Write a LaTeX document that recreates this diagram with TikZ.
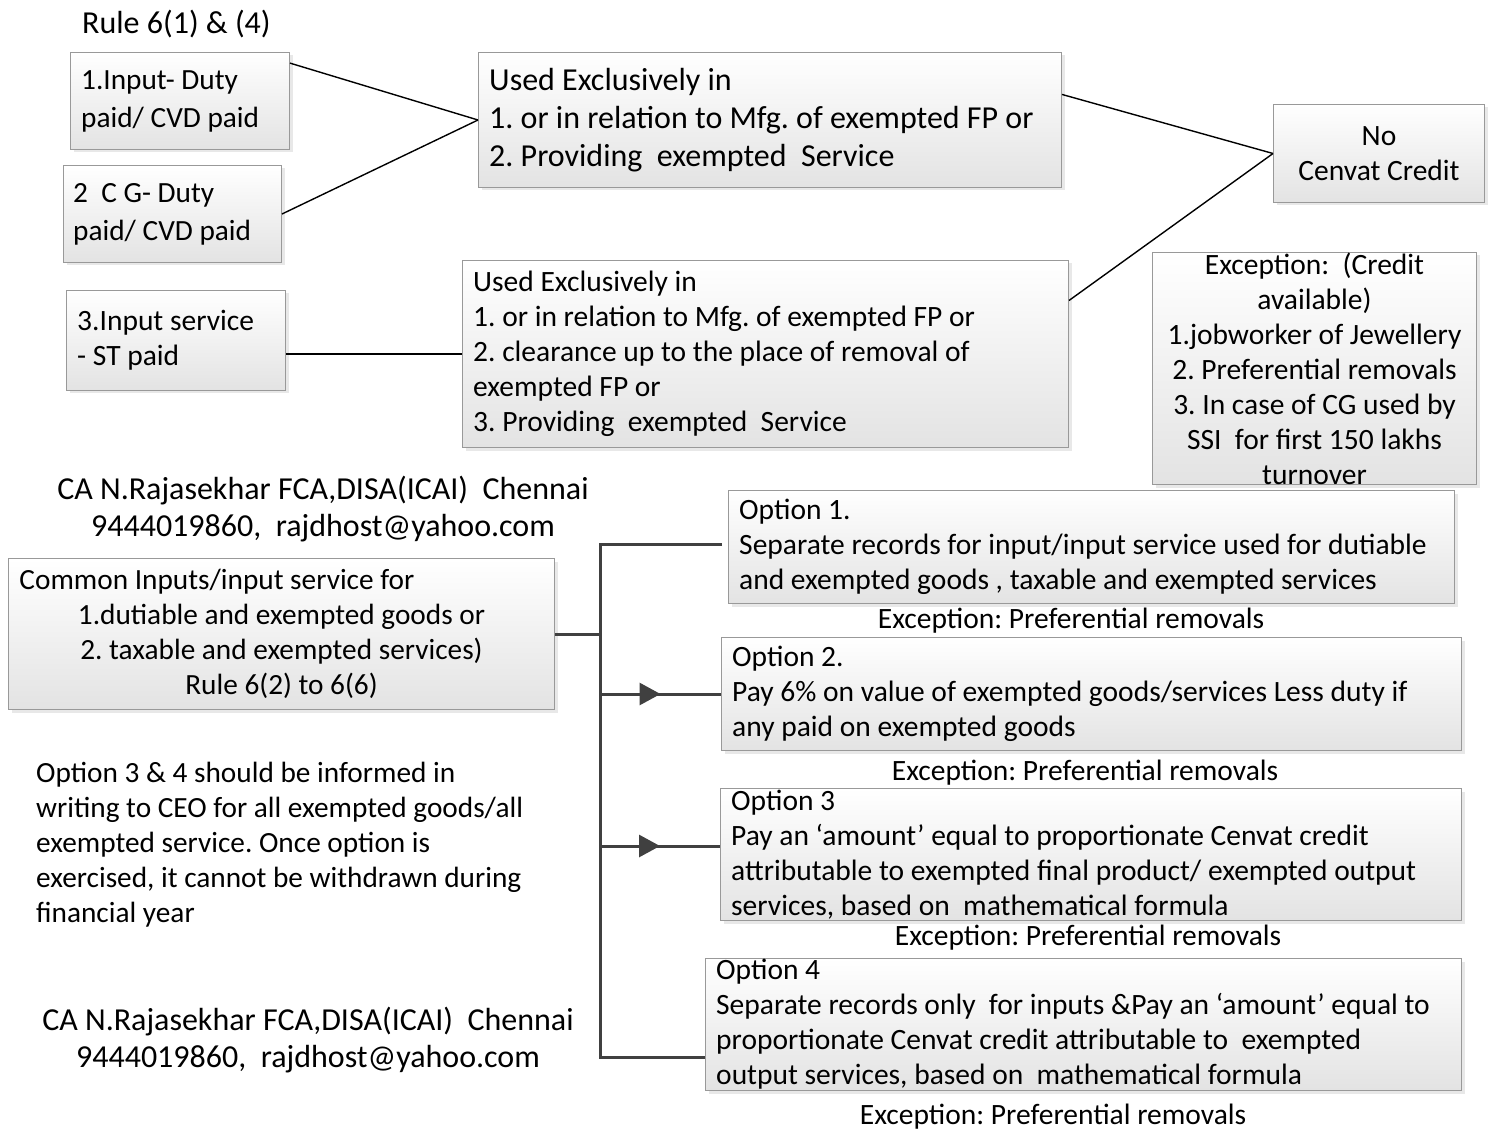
\documentclass[tikz,border=0pt]{standalone}
\usepackage{fontspec}
\setmainfont{Carlito}
\usetikzlibrary{shadows,arrows.meta,decorations.markings}
\frenchspacing
\newcommand\fsA{\fontsize{29.5}{35}\selectfont}
\newcommand\fsB{\fontsize{29.3}{38}\selectfont}
\newcommand\fsBig{\fontsize{32}{38}\selectfont}
\newcommand\fsC{\fontsize{32}{37}\selectfont}
\newcommand\fsL{\fontsize{29.5}{35}\selectfont}
\newcommand\fsN{\fontsize{29.3}{35}\selectfont}
\begin{document}
\begin{tikzpicture}[x=1pt,y=-1pt,
  boxshape/.style={draw=gray!80, line width=1pt, top color=white, bottom color=gray!22,
    drop shadow={shadow xshift=3pt,shadow yshift=-3pt,fill=gray!35},
    inner sep=0pt, anchor=north west},
  lefttext/.style={inner sep=0pt, font=\fsA, anchor=west, xshift=11pt, align=left},
  ctext/.style={inner sep=0pt, font=\fsA, anchor=center, align=center},
  plain/.style={inner sep=0pt, font=\fsA},
  conn/.style={draw=black, line width=1.4pt},
  branch/.style={draw=black!75, line width=3pt},
  arrowmid/.style={postaction={decorate},
    decoration={markings, mark=at position #1 with {\arrow{Triangle[length=21pt,width=22pt]}}}}
]
\useasboundingbox[fill=white] (0,0) rectangle (1491,1131);

% top boxes
\node[boxshape, minimum width=219pt, minimum height=97pt] (inA) at (70,52) {};
\node[lefttext, font=\fsB] (inAt) at (inA.west) {1.Input- Duty\\paid/ CVD paid};

\node[boxshape, minimum width=218pt, minimum height=97pt] (inB) at (63,165) {};
\node[lefttext, font=\fsB, xshift=-1pt] (inBt) at (inB.west) {2\ \ C G- Duty\\paid/ CVD paid};

\node[boxshape, minimum width=583pt, minimum height=135pt] (inC) at (478,52) {};
\node[lefttext, font=\fsBig] (inCt) at (inC.west) {Used Exclusively in\\1. or in relation to Mfg. of exempted FP or\\2. Providing\ \ exempted\ \ Service};

\node[boxshape, minimum width=211pt, minimum height=98pt] (inD) at (1273,104) {};
\node[ctext] (inDt) at (inD.center) {No\\Cenvat Credit};

\node[boxshape, minimum width=219pt, minimum height=100pt] (inE) at (66,290) {};
\node[lefttext] (inEt) at (inE.west) {3.Input service\\- ST paid};

\node[boxshape, minimum width=606pt, minimum height=187pt] (inF) at (462,260) {};
\node[lefttext] (inFt) at (inF.west) {Used Exclusively in\\1. or in relation to Mfg. of exempted FP or\\2. clearance up to the place of removal of\\exempted FP or\\3. Providing\ \ exempted\ \ Service};

\node[boxshape, minimum width=324pt, minimum height=232pt] (inG) at (1152,252) {};
\node[ctext] (inGt) at (inG.center) {Exception:\ \ (Credit\\available)\\1.jobworker of Jewellery\\2. Preferential removals\\3. In case of CG used by\\SSI\ \ for first 150 lakhs\\turnover};

\node[plain, font=\fsC, anchor=west] (rule) at (82,24) {Rule 6(1) \& (4)};

% connectors top
\draw[conn] (inA.19) -- (inC.west);
\draw[conn] (inB.east) -- (inC.west);
\draw[conn] (inC.5) -- (inD.west);
\draw[conn] (inF.10) -- (inD.west);
\draw[conn] (inE.east |- inF.west) -- (inF.west);

% middle texts
\node[plain, font=\fsC, align=center] (ca1) at (323,509.5) {CA N.Rajasekhar FCA,DISA(ICAI)\ \ Chennai\\9444019860,\ \ rajdhost@yahoo.com};
\node[plain, font=\fsC, align=center] (ca2) at (308,1040.5) {CA N.Rajasekhar FCA,DISA(ICAI)\ \ Chennai\\9444019860,\ \ rajdhost@yahoo.com};

\node[boxshape, minimum width=546pt, minimum height=151pt] (inH) at (8,558) {};
\node[ctext, font=\fsN] (inHt) at (inH.center) {\makebox[524pt][l]{Common Inputs/input service for}\\1.dutiable and exempted goods or\\2. taxable and exempted services)\\Rule 6(2) to 6(6)};

\node[plain, font=\fsN, anchor=west, align=left] (note) at (36,845) {Option 3 \& 4 should be informed in\\writing to CEO for all exempted goods/all\\exempted service. Once option is\\exercised, it cannot be withdrawn during\\financial year};

% option boxes
\node[boxshape, minimum width=726pt, minimum height=113pt] (op1) at (728,490) {};
\node[lefttext] (op1t) at (op1.west) {Option 1.\\Separate records for input/input service used for dutiable\\and exempted goods , taxable and exempted services};

\node[boxshape, minimum width=740pt, minimum height=113pt] (op2) at (721,637) {};
\node[lefttext] (op2t) at (op2.west) {Option 2.\\Pay 6\% on value of exempted goods/services Less duty if\\any paid on exempted goods};

\node[boxshape, minimum width=741pt, minimum height=132pt] (op3) at (720,788) {};
\node[lefttext] (op3t) at (op3.west) {Option 3\\Pay an ‘amount’ equal to proportionate Cenvat credit\\attributable to exempted final product/ exempted output\\services, based on\ \ mathematical formula};

\node[boxshape, minimum width=756pt, minimum height=132pt] (op4) at (705,958) {};
\node[lefttext] (op4t) at (op4.west) {Option 4\\Separate records only\ \ for inputs \&Pay an ‘amount’ equal to\\proportionate Cenvat credit attributable to\ \ exempted\\output services, based on\ \ mathematical formula};

\node[plain, font=\fsL] (ex1) at (1071,621) {Exception: Preferential removals};
\node[plain, font=\fsL] (ex2) at (1085,773) {Exception: Preferential removals};
\node[plain, font=\fsL] (ex3) at (1088,938) {Exception: Preferential removals};
\node[plain, font=\fsL] (ex4) at (1053,1117) {Exception: Preferential removals};

% branches
\coordinate (tTop) at (600,544);
\coordinate (tBot) at (600,1057);
\coordinate (c1) at (722,544);
\coordinate (b3) at (600,846);
\draw[branch] (inH.east) -- (inH.east -| tTop);
\draw[branch] (c1) -- (tTop) -- (tBot) -- (op4.west |- tBot);
\draw[branch, arrowmid=0.5] (tTop |- op2.west) -- (op2.west);
\draw[branch, arrowmid=0.5] (b3) -- (op3.west |- b3);
\end{tikzpicture}
\end{document}
